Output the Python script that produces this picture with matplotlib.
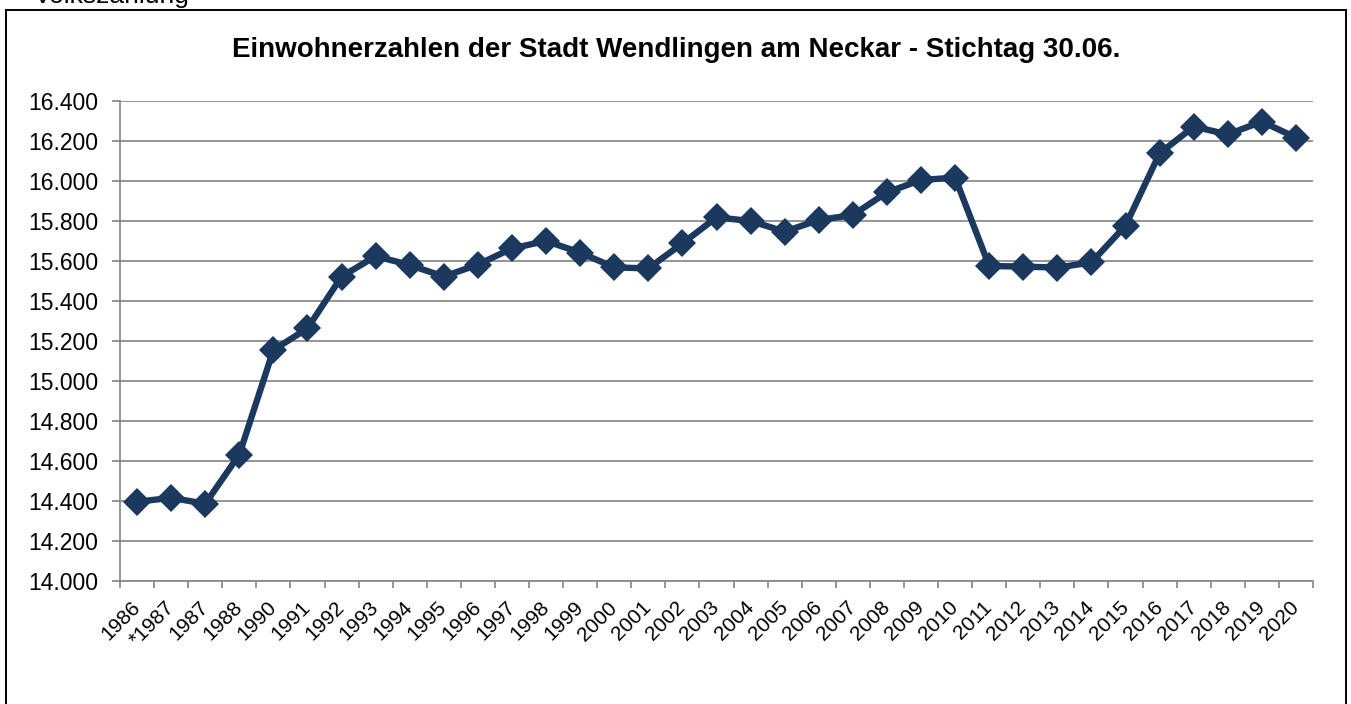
import matplotlib
matplotlib.use("Agg")
import matplotlib.pyplot as plt
from matplotlib.ticker import FuncFormatter, FixedLocator
from matplotlib.patches import Rectangle

plt.rcParams['font.family'] = ['Liberation Sans', 'DejaVu Sans']

categories = ["1986", "*1987", "1987", "1988", "1990", "1991", "1992", "1993", "1994",
              "1995", "1996", "1997", "1998", "1999", "2000", "2001", "2002", "2003",
              "2004", "2005", "2006", "2007", "2008", "2009", "2010", "2011", "2012",
              "2013", "2014", "2015", "2016", "2017", "2018", "2019", "2020"]
population = [14396, 14416, 14386, 14632, 15155, 15263, 15522, 15624, 15580,
              15522, 15582, 15663, 15700, 15642, 15568, 15563, 15688, 15818,
              15800, 15747, 15805, 15830, 15943, 16005, 16017, 15575, 15572,
              15567, 15593, 15777, 16138, 16272, 16233, 16297, 16217]
y_ticks = [14000, 14200, 14400, 14600, 14800, 15000, 15200, 15400, 15600,
           15800, 16000, 16200, 16400]

title = "Einwohnerzahlen der Stadt Wendlingen am Neckar - Stichtag 30.06."
note = "Volkszählung"

W, H = 1351, 704
fig = plt.figure(figsize=(W / 100, H / 100), dpi=100)
ax = fig.add_axes([120 / W, 1 - 581 / H, (1313 - 120) / W, (581 - 101) / H])

navy = "#1b395f"
grid_c = "#8c8c8c"
x = list(range(len(categories)))
ax.plot(x, population, color=navy, lw=4.6, marker="D", markersize=14,
        markeredgewidth=0, zorder=3, solid_joinstyle="round")

ax.set_xlim(-0.5, len(categories) - 0.5)
ax.set_ylim(y_ticks[0], y_ticks[-1])
ax.set_yticks(y_ticks)
ax.yaxis.set_major_formatter(FuncFormatter(lambda v, p: f"{v:,.0f}".replace(",", ".")))
ax.grid(axis="y", color=grid_c, lw=1.3, zorder=0)

ax.set_xticks(x)
ax.set_xticklabels(categories, rotation=45, ha="right", va="center",
                   rotation_mode="anchor", fontsize=15)
ax.xaxis.set_minor_locator(FixedLocator([i - 0.5 for i in range(len(categories) + 1)]))
ax.tick_params(axis="x", which="major", length=0, pad=17)
ax.tick_params(axis="x", which="minor", length=5, width=1.3, color=grid_c)
ax.tick_params(axis="y", length=6, width=1.3, color=grid_c, labelsize=16.5, pad=9.5)

for s in ["top", "right"]:
    ax.spines[s].set_visible(False)
for s in ["left", "bottom"]:
    ax.spines[s].set_color(grid_c)
    ax.spines[s].set_linewidth(1.3)

fig.text(676 / W, 1 - 50 / H, title, ha="center", va="center",
         fontsize=20, fontweight="bold")
fig.text(34 / W, 1 - 3.5 / H, note, ha="left", va="baseline", fontsize=19)

fig.patches.append(Rectangle((6 / W, -0.05), (1346 - 6) / W, 0.05 + 1 - 10 / H,
                             transform=fig.transFigure, fill=False,
                             edgecolor="black", lw=1.4, zorder=0))

fig.savefig("out.png", dpi=100)
